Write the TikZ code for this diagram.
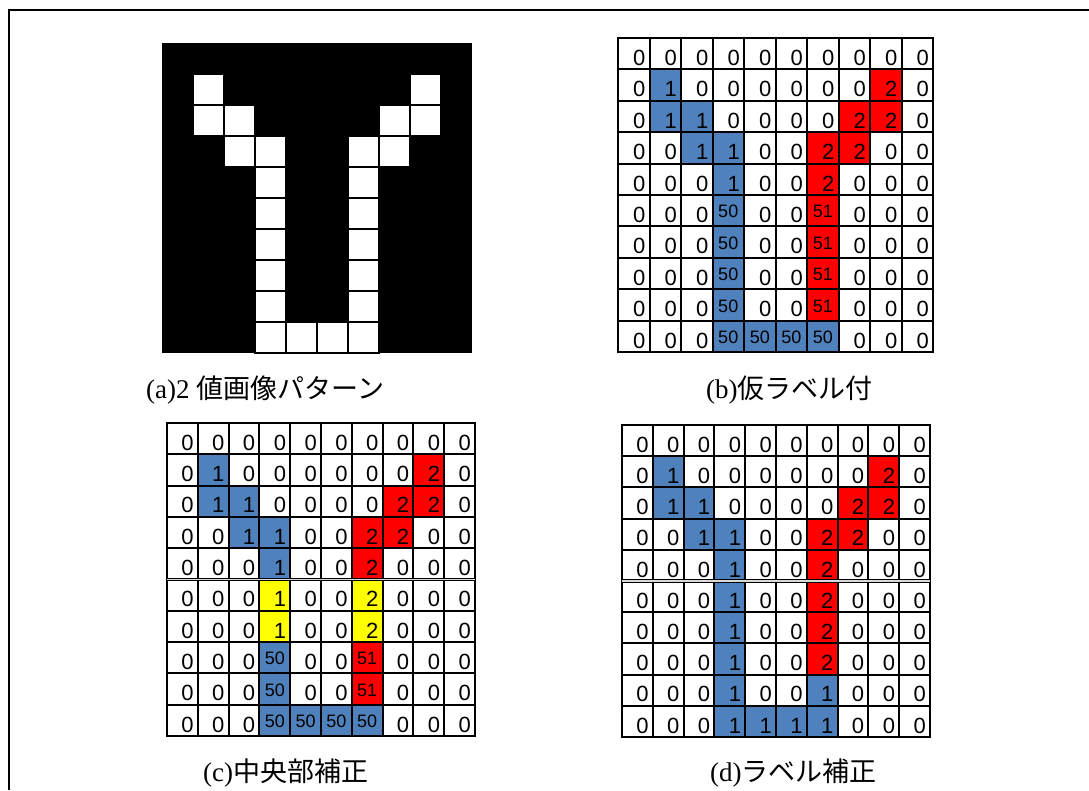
\documentclass[tikz,border=0pt]{standalone}
\usepackage{fontspec}
\usepackage{xcolor}
\usepackage{tikz}
\setmainfont{Liberation Serif}
\newfontfamily\jpfont{Noto Sans CJK JP}
\newfontfamily\numfont{Liberation Sans}
\definecolor{labelblue}{RGB}{79,129,189}
\definecolor{labelred}{RGB}{255,0,0}
\definecolor{labelyellow}{RGB}{255,255,0}

\begin{document}
\begin{tikzpicture}[
        x=1pt, y=-1pt,
        cellw/.style={fill=white},
        cellb/.style={fill=labelblue},
        cellr/.style={fill=labelred},
        celly/.style={fill=labelyellow},
        gridline/.style={
            line width=2pt,
            line cap=rect
        },
        sepline/.style={
            line width=1.2pt,
            double=gray!30,
            double distance=1.2pt
        },
        pixel/.style={
            fill=white,
            draw=black,
            line width=1.5pt
        },
        bignum/.style={
            anchor=base east,
            inner sep=0pt,
            xshift=-4pt,
            yshift=4pt,
            font=\numfont\fontsize{22}{22}\selectfont
        },
        smallnum/.style={
            anchor=base,
            inner sep=0pt,
            yshift=8.5pt,
            font=\numfont\fontsize{18}{18}\selectfont
        },
        caption/.style={
            anchor=west,
            inner sep=0pt,
            font=\fontsize{27}{32}\selectfont
        }
    ]
    \useasboundingbox (0,0) rectangle (1089,790);

    % Frame
    \draw[line width=2pt] (8.5,790) -- (8.5,9.5) -- (1089,9.5);

    % (a) binary pattern
    \fill (162,43) rectangle (472,353);
    \begin{scope}[shift={(162,43)}, x=31pt, y=-31pt]
        \foreach \c/\r in {1/1,8/1,1/2,2/2,7/2,8/2,2/3,3/3,6/3,7/3,3/9,4/9,5/9,6/9}
            \draw[pixel] (\c,\r) rectangle ++(1,1);
        \foreach \r in {4,...,8} {
            \draw[pixel] (3,\r) rectangle ++(1,1);
            \draw[pixel] (6,\r) rectangle ++(1,1);
        }
    \end{scope}
    \node[caption] (capa) at (146,390) {(a)2 {\jpfont 値画像パターン}};

    % (b) temporary labels
    \begin{scope}[shift={(618,38)}, x=31.5pt, y=-31.4pt]
        \foreach \row [count=\r from 0] in {%
            {0/w,0/w,0/w,0/w,0/w,0/w,0/w,0/w,0/w,0/w},
            {0/w,1/b,0/w,0/w,0/w,0/w,0/w,0/w,2/r,0/w},
            {0/w,1/b,1/b,0/w,0/w,0/w,0/w,2/r,2/r,0/w},
            {0/w,0/w,1/b,1/b,0/w,0/w,2/r,2/r,0/w,0/w},
            {0/w,0/w,0/w,1/b,0/w,0/w,2/r,0/w,0/w,0/w},
            {0/w,0/w,0/w,50/b,0/w,0/w,51/r,0/w,0/w,0/w},
            {0/w,0/w,0/w,50/b,0/w,0/w,51/r,0/w,0/w,0/w},
            {0/w,0/w,0/w,50/b,0/w,0/w,51/r,0/w,0/w,0/w},
            {0/w,0/w,0/w,50/b,0/w,0/w,51/r,0/w,0/w,0/w},
            {0/w,0/w,0/w,50/b,50/b,50/b,50/b,0/w,0/w,0/w}} {
            \foreach \v/\c [count=\k from 0] in \row {
                \fill[cell\c] (\k,\r) rectangle ++(1,1);
                \ifnum\v>9
                    \node[smallnum] (b-\r-\k) at (\k+0.5,\r+1) {\v};
                \else
                    \node[bignum] (b-\r-\k) at (\k+1,\r+1) {\v};
                \fi
            }
        }
        \foreach \i in {0,...,10} {
            \draw[gridline] (\i,0) -- (\i,10);
            \draw[gridline] (0,\i) -- (10,\i);
        }
    \end{scope}
    \node[caption] (capb) at (706,390) {(b){\jpfont 仮ラベル付}};

    % (c) centre correction
    \begin{scope}[shift={(167,423)}, x=30.8pt, y=-31.3pt]
        \foreach \row [count=\r from 0] in {%
            {0/w,0/w,0/w,0/w,0/w,0/w,0/w,0/w,0/w,0/w},
            {0/w,1/b,0/w,0/w,0/w,0/w,0/w,0/w,2/r,0/w},
            {0/w,1/b,1/b,0/w,0/w,0/w,0/w,2/r,2/r,0/w},
            {0/w,0/w,1/b,1/b,0/w,0/w,2/r,2/r,0/w,0/w},
            {0/w,0/w,0/w,1/b,0/w,0/w,2/r,0/w,0/w,0/w},
            {0/w,0/w,0/w,1/y,0/w,0/w,2/y,0/w,0/w,0/w},
            {0/w,0/w,0/w,1/y,0/w,0/w,2/y,0/w,0/w,0/w},
            {0/w,0/w,0/w,50/b,0/w,0/w,51/r,0/w,0/w,0/w},
            {0/w,0/w,0/w,50/b,0/w,0/w,51/r,0/w,0/w,0/w},
            {0/w,0/w,0/w,50/b,50/b,50/b,50/b,0/w,0/w,0/w}} {
            \foreach \v/\c [count=\k from 0] in \row {
                \fill[cell\c] (\k,\r) rectangle ++(1,1);
                \ifnum\v>9
                    \node[smallnum] (c-\r-\k) at (\k+0.5,\r+1) {\v};
                \else
                    \node[bignum] (c-\r-\k) at (\k+1,\r+1) {\v};
                \fi
            }
        }
        \foreach \i in {0,...,10} {
            \draw[gridline] (\i,0) -- (\i,10);
            \draw[gridline] (0,\i) -- (10,\i);
        }
        \draw[sepline] (0,5) -- (10,5);
    \end{scope}
    \node[caption] (capc) at (203,773) {(c){\jpfont 中央部補正}};

    % (d) label correction
    \begin{scope}[shift={(622,425)}, x=30.8pt, y=-31.2pt]
        \foreach \row [count=\r from 0] in {%
            {0/w,0/w,0/w,0/w,0/w,0/w,0/w,0/w,0/w,0/w},
            {0/w,1/b,0/w,0/w,0/w,0/w,0/w,0/w,2/r,0/w},
            {0/w,1/b,1/b,0/w,0/w,0/w,0/w,2/r,2/r,0/w},
            {0/w,0/w,1/b,1/b,0/w,0/w,2/r,2/r,0/w,0/w},
            {0/w,0/w,0/w,1/b,0/w,0/w,2/r,0/w,0/w,0/w},
            {0/w,0/w,0/w,1/b,0/w,0/w,2/r,0/w,0/w,0/w},
            {0/w,0/w,0/w,1/b,0/w,0/w,2/r,0/w,0/w,0/w},
            {0/w,0/w,0/w,1/b,0/w,0/w,2/r,0/w,0/w,0/w},
            {0/w,0/w,0/w,1/b,0/w,0/w,1/b,0/w,0/w,0/w},
            {0/w,0/w,0/w,1/b,1/b,1/b,1/b,0/w,0/w,0/w}} {
            \foreach \v/\c [count=\k from 0] in \row {
                \fill[cell\c] (\k,\r) rectangle ++(1,1);
                \node[bignum] (d-\r-\k) at (\k+1,\r+1) {\v};
            }
        }
        \foreach \i in {0,...,10} {
            \draw[gridline] (\i,0) -- (\i,10);
            \draw[gridline] (0,\i) -- (10,\i);
        }
        \draw[sepline] (0,5) -- (10,5);
    \end{scope}
    \node[caption] (capd) at (710,773) {(d){\jpfont ラベル補正}};

\end{tikzpicture}
\end{document}
